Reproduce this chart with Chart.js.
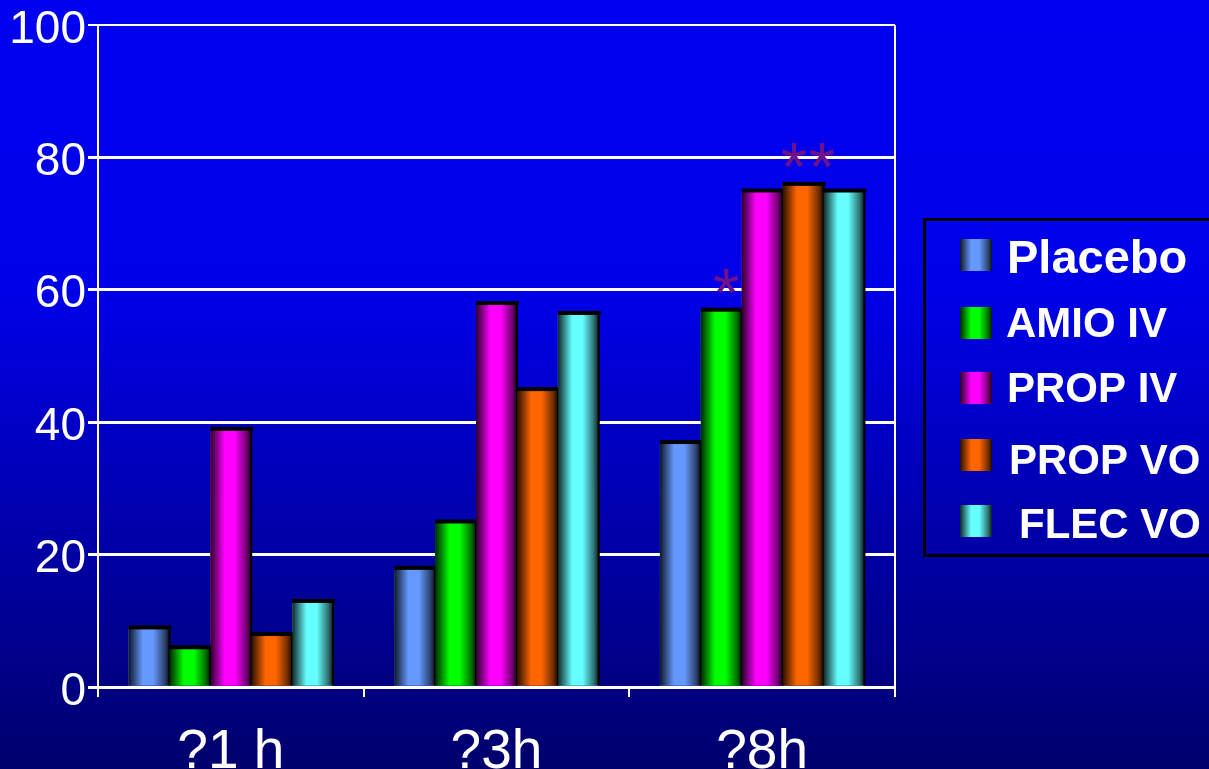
<!DOCTYPE html>
<html>
<head>
<meta charset="utf-8">
<script src="https://cdn.jsdelivr.net/npm/chart.js@4.4.0/dist/chart.umd.min.js"></script>
<style>
  html, body { margin: 0; padding: 0; background: #00006e; overflow: hidden; }
  canvas { display: block; }
</style>
</head>
<body>
<canvas id="chart" width="1209" height="769"></canvas>
<script>
const categories = ['?1 h', '?3h', '?8h'];
const seriesNames = ['Placebo', 'AMIO IV', 'PROP IV', 'PROP VO', 'FLEC VO'];
const placebo = [9, 18, 37];
const amioIV = [6, 25, 57];
const propIV = [39, 58, 75];
const propVO = [8, 45, 76];
const flecVO = [13, 56.5, 75];
const seriesColors = ['#6699ff', '#00ff00', '#ff00ff', '#ff6600', '#66ffff'];
const yTicks = [0, 20, 40, 60, 80, 100];

// significance stars: which series / category they sit above
const starSeries = [1, 3];
const starCategory = [2, 2];
const starText = ['*', '**'];

const FONT = '"Liberation Sans", Arial, sans-serif';

function shade(hex, f) {
    const n = parseInt(hex.slice(1), 16);
    const r = Math.round(((n >> 16) & 255) * f);
    const g = Math.round(((n >> 8) & 255) * f);
    const b = Math.round((n & 255) * f);
    return `rgb(${r},${g},${b})`;
}

// cylinder-ish horizontal shading used for bars and legend swatches
function barGradient(ctx, left, width, hex) {
    const g = ctx.createLinearGradient(left, 0, left + width, 0);
    g.addColorStop(0, shade(hex, 0.15));
    g.addColorStop(0.35, shade(hex, 1));
    g.addColorStop(0.6, shade(hex, 1));
    g.addColorStop(0.88, shade(hex, 0.45));
    g.addColorStop(1, shade(hex, 0.1));
    return g;
}

const backgroundPlugin = {
    id: 'background',
    beforeDraw(chart) {
        const { ctx, width, height } = chart;
        const g = ctx.createLinearGradient(0, 0, 0, height);
        g.addColorStop(0, '#0000f0');
        g.addColorStop(0.38, '#0000e8');
        g.addColorStop(1, '#00006c');
        ctx.save();
        ctx.fillStyle = g;
        ctx.fillRect(0, 0, width, height);
        ctx.restore();
    }
};

const shadedBarsPlugin = {
    id: 'shadedBars',
    afterDatasetsDraw(chart) {
        const ctx = chart.ctx;
        ctx.save();
        chart.data.datasets.forEach((ds, di) => {
            const meta = chart.getDatasetMeta(di);
            meta.data.forEach(el => {
                const { x, y, base, width } = el.getProps(['x', 'y', 'base', 'width'], true);
                const left = x - width / 2;
                ctx.fillStyle = barGradient(ctx, left, width, seriesColors[di]);
                ctx.fillRect(left, y, width, base - y);
                ctx.fillStyle = '#000000';
                ctx.fillRect(left, y - 2, width + 2, 4);
                ctx.fillRect(left + width - 1, y, 2, base - y);
            });
        });

        // significance stars, one glyph every 28px
        ctx.fillStyle = '#70108a';
        ctx.font = `68px ${FONT}`;
        ctx.textAlign = 'center';
        ctx.textBaseline = 'alphabetic';
        starText.forEach((t, i) => {
            const el = chart.getDatasetMeta(starSeries[i]).data[starCategory[i]];
            const first = el.x + 5 - (t.length - 1) * 14;
            for (let k = 0; k < t.length; k++) {
                ctx.fillText(t[k], first + k * 28, el.y + 6);
            }
        });
        ctx.restore();
    }
};

const frameLegendPlugin = {
    id: 'frameLegend',
    afterDraw(chart) {
        const { ctx, chartArea } = chart;
        ctx.save();
        // right edge of the plot frame
        ctx.strokeStyle = '#ffffff';
        ctx.lineWidth = 2;
        ctx.beginPath();
        ctx.moveTo(chartArea.right, chartArea.top);
        ctx.lineTo(chartArea.right, chartArea.bottom + 2);
        ctx.stroke();

        // legend box
        ctx.strokeStyle = '#000000';
        ctx.lineWidth = 3;
        ctx.strokeRect(924.5, 219.5, 320, 336);

        const swatchTop = [239, 307, 372, 439, 505];
        const textX = [1007, 1006, 1007, 1009, 1019];
        const textBase = [273, 337, 402, 474, 538];
        ctx.textAlign = 'left';
        ctx.textBaseline = 'alphabetic';
        seriesNames.forEach((name, i) => {
            ctx.fillStyle = barGradient(ctx, 960, 32, seriesColors[i]);
            ctx.fillRect(960, swatchTop[i], 32, 32);
            ctx.fillStyle = '#ffffff';
            ctx.font = `bold ${i === 0 ? 47 : 42}px ${FONT}`;
            ctx.fillText(name, textX[i], textBase[i]);
        });
        ctx.restore();
    }
};

const datasets = [placebo, amioIV, propIV, propVO, flecVO].map((values, i) => ({
    label: seriesNames[i],
    data: values,
    backgroundColor: seriesColors[i],
    borderWidth: 0,
    categoryPercentage: 0.77,
    barPercentage: 1.0
}));

new Chart(document.getElementById('chart'), {
    type: 'bar',
    data: { labels: categories, datasets },
    options: {
        responsive: false,
        animation: false,
        devicePixelRatio: 1,
        layout: { padding: { top: 0, right: 314, left: 0, bottom: 0 } },
        plugins: {
            legend: { display: false },
            tooltip: { enabled: false }
        },
        scales: {
            x: {
                afterFit(scale) { scale.height = 82; },
                grid: {
                    drawOnChartArea: false,
                    drawTicks: true,
                    tickLength: 10,
                    color: '#ffffff',
                    lineWidth: 2
                },
                border: { color: '#ffffff', width: 3 },
                ticks: {
                    color: '#ffffff',
                    font: { family: FONT, size: 55 },
                    padding: 23
                }
            },
            y: {
                min: 0,
                max: 100,
                afterFit(scale) {
                    scale.width = 98;
                    scale.paddingTop = 25;
                },
                afterBuildTicks(scale) { scale.ticks = yTicks.map(v => ({ value: v })); },
                grid: {
                    color: '#ffffff',
                    lineWidth: ctx => (ctx.tick && ctx.tick.value === 100 ? 2 : 3),
                    tickLength: 10
                },
                border: { color: '#ffffff', width: 2 },
                ticks: {
                    color: '#ffffff',
                    font: { family: FONT, size: 46 },
                    padding: 2,
                    labelOffset: 5
                }
            }
        }
    },
    plugins: [backgroundPlugin, shadedBarsPlugin, frameLegendPlugin]
});
</script>
</body>
</html>
